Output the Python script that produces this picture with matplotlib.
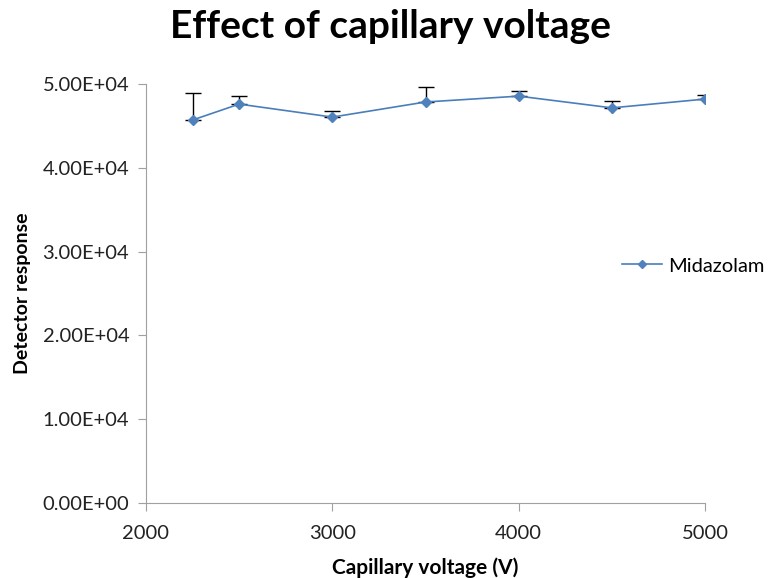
import matplotlib.pyplot as plt
from matplotlib.ticker import FuncFormatter

# capillary voltage (V) vs detector response
voltage = [2250, 2500, 3000, 3500, 4000, 4500, 5000]
response = [45700, 47600, 46050, 47850, 48550, 47150, 48200]
err_up = [3200, 950, 700, 1800, 600, 850, 500]
err_down = [0, 600, 0, 450, 600, 600, 0]

plt.rcParams['font.family'] = ['Lato', 'DejaVu Sans']

fig = plt.figure(figsize=(7.74, 5.78), dpi=100)
ax = fig.add_axes([0.1886, 0.1298, 0.7224, 0.7249])

line_col = '#4a7ebb'
zeros = [0] * len(voltage)
# plus bars with caps, minus bars without
ax.errorbar(voltage, response, yerr=[zeros, err_up], fmt='none',
            ecolor='black', elinewidth=1, capsize=6, capthick=1, zorder=2)
ax.errorbar(voltage, response, yerr=[err_down, zeros], fmt='none',
            ecolor='black', elinewidth=1, capsize=0, zorder=2)
ax.plot(voltage, response, color=line_col, marker='D', markersize=5,
        markerfacecolor='#4f81bd', markeredgecolor='#4f81bd', lw=1.2,
        label='Midazolam', zorder=3)

ax.set_xlim(2000, 5000)
ax.set_ylim(0, 50000)
ax.set_xticks([2000, 3000, 4000, 5000])
ax.set_yticks([0, 10000, 20000, 30000, 40000, 50000])
ax.yaxis.set_major_formatter(FuncFormatter(lambda v, p: '%.2E' % v))

for s in ['top', 'right']:
    ax.spines[s].set_visible(False)
for s in ['left', 'bottom']:
    ax.spines[s].set_color('#a0a0a0')
ax.tick_params(axis='both', colors='#a0a0a0', labelcolor='#222222',
               labelsize=14.5, length=6, direction='out')
ax.tick_params(axis='x', pad=10)
ax.tick_params(axis='y', pad=6)

ax.set_xlabel('Capillary voltage (V)', fontsize=15, fontweight='bold', labelpad=11)
ax.set_ylabel('Detector response', fontsize=14, fontweight='bold', labelpad=8)
fig.suptitle('Effect of capillary voltage', fontsize=28, fontweight='bold',
             x=0.505, y=0.985)

ax.legend(loc='center left', bbox_to_anchor=(0.8515, 0.5656), frameon=False,
          fontsize=14.5, handlelength=2.0, handletextpad=0.3, borderpad=0,
          borderaxespad=0, markerscale=0.8)

fig.savefig('out.png', dpi=100)
